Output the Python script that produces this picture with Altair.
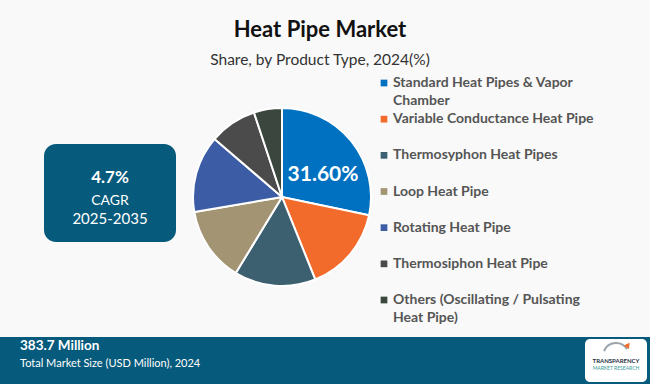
import altair as alt
import pandas as pd

# ---- data ----
categories = [
    "Standard Heat Pipes & Vapor Chamber",
    "Variable Conductance Heat Pipe",
    "Thermosyphon Heat Pipes",
    "Loop Heat Pipe",
    "Rotating Heat Pipe",
    "Thermosiphon Heat Pipe",
    "Others (Oscillating / Pulsating Heat Pipe)",
]
legend_labels = [
    "Standard Heat Pipes & Vapor\nChamber",
    "Variable Conductance Heat Pipe",
    "Thermosyphon Heat Pipes",
    "Loop Heat Pipe",
    "Rotating Heat Pipe",
    "Thermosiphon Heat Pipe",
    "Others (Oscillating / Pulsating\nHeat Pipe)",
]
shares = [28.3, 15.6, 14.8, 13.6, 14.0, 8.6, 5.1]
colors = ["#0070C0", "#F26B2B", "#3D6070", "#A39473", "#3C5DA5", "#4B4B4B", "#3A463E"]
pie_label = "31.60%"
title = "Heat Pipe Market"
subtitle = "Share, by Product Type, 2024(%)"
cagr_value = "4.7%"
cagr_label = "CAGR"
cagr_period = "2025-2035"
market_value = "383.7 Million"
market_label = "Total Market Size (USD Million), 2024"

df = pd.DataFrame({
    "cat": categories,
    "share": shares,
    "order": list(range(len(categories))),
    "label": legend_labels,
})

W, H = 650, 384
cx, cy, R = 282, 197, 89
BOX = "#065A7B"
one = pd.DataFrame({"k": [0]})

color_scale = alt.Scale(domain=categories, range=colors)
yleg = alt.Y("order:Q", scale=alt.Scale(domain=[0, 6], range=[83, 300]), axis=None)


def txt(s, x, y, size, color, weight="normal", align="center", font="Lato"):
    return alt.Chart(pd.DataFrame({"t": [s]})).mark_text(
        align=align, baseline="middle", fontSize=size, font=font,
        fontWeight=weight, color=color
    ).encode(x=alt.value(x), y=alt.value(y), text="t:N")


def rect(x, x2, y, y2, color, radius=0):
    return alt.Chart(one).mark_rect(color=color, cornerRadius=radius).encode(
        x=alt.value(x), x2=alt.value(x2), y=alt.value(y), y2=alt.value(y2))


pie = alt.Chart(df).mark_arc(radius=R, stroke="white", strokeWidth=2).encode(
    theta=alt.Theta("share:Q", stack=True),
    order=alt.Order("order:Q"),
    color=alt.Color("cat:N", scale=color_scale, legend=None),
    x=alt.value(cx), y=alt.value(cy),
)

leg_sq = alt.Chart(df).mark_square(size=45, opacity=1).encode(
    x=alt.value(384), y=yleg,
    color=alt.Color("cat:N", scale=color_scale, legend=None),
)
leg_tx = alt.Chart(df).mark_text(
    align="left", baseline="middle", font="Lato", fontWeight="bold",
    fontSize=14, color="#555555", lineBreak="\n", lineHeight=18,
).encode(x=alt.value(393), y=yleg, text="label:N")

layers = [
    rect(44, 176, 144, 242, BOX, 12),
    txt(cagr_value, 110, 178, 17, "white", "bold"),
    txt(cagr_label, 110, 201, 14, "white"),
    txt(cagr_period, 110, 219, 15, "white"),
    rect(0, W, 337, H, BOX),
    txt(market_value, 20, 346, 13.5, "white", "bold", "left"),
    txt(market_label, 20, 364, 11, "white", "normal", "left"),
    rect(585, 647, 339, 382, "white", 5),
    txt("TRANSPARENCY", 616, 361, 6, "#1f2f3f", "bold"),
    txt("MARKET RESEARCH", 616, 368, 5, "#3a9a9a"),
    alt.Chart(one).mark_arc(radius=14, radius2=12, theta=5.1, theta2=7.3, color="#9aa5ad").encode(
        x=alt.value(616), y=alt.value(356)),
    alt.Chart(one).mark_point(shape="triangle-up", filled=True, size=40, color="#F26B2B", angle=35, opacity=1).encode(
        x=alt.value(628), y=alt.value(345)),
    pie,
    txt(pie_label, 323, 175, 21, "white", "bold"),
    leg_sq,
    leg_tx,
    txt(title, 320, 30, 22, "#111111", "bold"),
    txt(subtitle, 320, 60, 15.5, "#333333"),
]

chart = alt.layer(*layers).properties(
    width=W, height=H, padding=0, autosize="none", background="#F9F9F9"
).configure_view(stroke=None)

chart.save("out.html", embed_options={"renderer": "svg", "actions": False})
